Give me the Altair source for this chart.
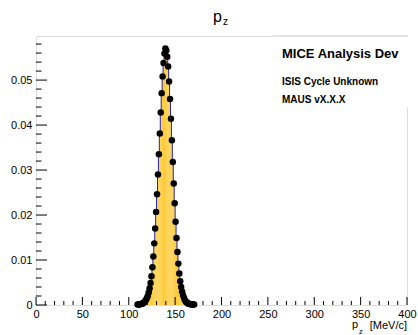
import altair as alt
import pandas as pd

# ---- data ----
bin_width = 1.0
first_bin_low_edge = 109
pz_values = [
    0.0001, 0.0001, 0.0001, 0.0002, 0.0002, 0.0003, 0.0004, 0.0006, 0.0008, 0.0011,
    0.0015, 0.0020, 0.0028, 0.0037, 0.0049, 0.0064, 0.0084, 0.0108, 0.0137, 0.0170,
    0.0207, 0.0246, 0.0290, 0.0335, 0.0381, 0.0428, 0.0471, 0.0508, 0.0538, 0.0559,
    0.0570, 0.0566, 0.0552, 0.0530, 0.0497, 0.0458, 0.0414, 0.0366, 0.0318, 0.0270,
    0.0226, 0.0185, 0.0149, 0.0118, 0.0092, 0.0070, 0.0053, 0.0040, 0.0030, 0.0022,
    0.0016, 0.0011, 0.0008, 0.0006, 0.0004, 0.0003, 0.0002, 0.0002, 0.0001, 0.0001,
    0.0001, 0.0001,
]
x_major = [0, 50, 100, 150, 200, 250, 300, 350, 400]
x_minor = [v for v in range(10, 400, 10) if v % 50 != 0]
y_major = [0.0, 0.01, 0.02, 0.03, 0.04, 0.05]
y_minor = [0.002, 0.004, 0.006, 0.008, 0.012, 0.014, 0.016, 0.018,
           0.022, 0.024, 0.026, 0.028, 0.032, 0.034, 0.036, 0.038,
           0.042, 0.044, 0.046, 0.048, 0.052, 0.054, 0.056, 0.058]
title_main = "p"
title_sub = "z"
axis_title_main = "p"
axis_title_sub = "z"
axis_unit = "[MeV/c]"
box_lines = ["MICE Analysis Dev", "ISIS Cycle Unknown", "MAUS vX.X.X"]

# ---- tables ----
n = len(pz_values)
lows = [first_bin_low_edge + i * bin_width for i in range(n)]
pts = pd.DataFrame({
    "center": [l + bin_width / 2 for l in lows],
    "val": pz_values,
})
step_x = [lows[0]] + lows + [lows[-1] + bin_width, lows[-1] + bin_width]
step_y = [0.0] + pz_values + [pz_values[-1], 0.0]
steps = pd.DataFrame({"x": step_x, "y": step_y, "idx": list(range(len(step_x)))})

W, H = 371, 269
FONT = "Liberation Sans"
xscale = alt.Scale(domain=[0, 400], nice=False, zero=False)
yscale = alt.Scale(domain=[0, 0.0598], nice=False)
xaxis = alt.Axis(values=x_major, ticks=False, domain=False, grid=False, title=None,
                 labelFont=FONT, labelFontSize=11, labelColor="black", labelPadding=3,
                 labelFlush=False)
yaxis = alt.Axis(values=y_major, ticks=False, domain=False, grid=False, title=None,
                 labelFont=FONT, labelFontSize=11, labelColor="black", labelPadding=4,
                 labelExpr="datum.value == 0 ? '0' : format(datum.value, '.2f')")
one = pd.DataFrame({"a": [0]})

fill = alt.Chart(steps).mark_area(
    interpolate="step-after", color="#fdc82f", opacity=1
).encode(
    x=alt.X("x:Q", scale=xscale, axis=xaxis),
    y=alt.Y("y:Q", scale=yscale, axis=yaxis),
    order=alt.Order("idx:Q"),
)

outline = alt.Chart(steps).mark_line(
    interpolate="step-after", color="#2424b4", strokeWidth=1
).encode(
    x=alt.X("x:Q", scale=xscale, axis=xaxis),
    y=alt.Y("y:Q", scale=yscale, axis=yaxis),
    order=alt.Order("idx:Q"),
)

dots = alt.Chart(pts).mark_circle(color="black", opacity=1, size=42).encode(
    x=alt.X("center:Q", scale=xscale, axis=xaxis),
    y=alt.Y("val:Q", scale=yscale, axis=yaxis),
)

def xticks(vals, length):
    return alt.Chart(pd.DataFrame({"t": vals})).mark_rule(color="black", strokeWidth=1).encode(
        x=alt.X("t:Q", scale=xscale, axis=xaxis),
        y=alt.value(H), y2=alt.value(H - length),
    )

def yticks(vals, length):
    return alt.Chart(pd.DataFrame({"t": vals})).mark_rule(color="black", strokeWidth=1).encode(
        y=alt.Y("t:Q", scale=yscale, axis=yaxis),
        x=alt.value(0), x2=alt.value(length),
    )

def label(text, x, y, size, bold=False, align="left", baseline="alphabetic"):
    return alt.Chart(one).mark_text(
        font=FONT, fontSize=size, fontWeight="bold" if bold else "normal",
        align=align, baseline=baseline, color="black",
    ).encode(x=alt.value(x), y=alt.value(y), text=alt.value(text))

box = alt.Chart(one).mark_rect(color="white").encode(
    x=alt.value(237), x2=alt.value(374), y=alt.value(-0.5), y2=alt.value(71)
)
box_top = alt.Chart(one).mark_rule(color="#c8c8c8", strokeWidth=1).encode(
    x=alt.value(237), x2=alt.value(372), y=alt.value(0)
)

chart = alt.layer(
    fill, outline, dots,
    xticks(x_major, 8), xticks(x_minor, 4),
    yticks(y_major, 11), yticks(y_minor, 5.5),
    box, box_top,
    label(box_lines[0], 246, 18, 13, bold=True, baseline="middle"),
    label(box_lines[1], 246, 46, 10, bold=True, baseline="middle"),
    label(box_lines[2], 246, 64, 10, bold=True, baseline="middle"),
    label(title_main, 177, -14.5, 16),
    label(title_sub, 187, -11, 10),
    label(axis_title_main, 316, 292, 11),
    label(axis_title_sub, 323, 297.5, 7.5),
    label(axis_unit, 371, 293, 11, align="right"),
).properties(
    width=W, height=H,
    padding={"left": 36, "top": 36, "right": 11, "bottom": 30},
    autosize="none",
).configure_view(stroke="black", strokeWidth=1).configure(background="white")

chart.save("out.html", embed_options={"renderer": "svg", "actions": False})
